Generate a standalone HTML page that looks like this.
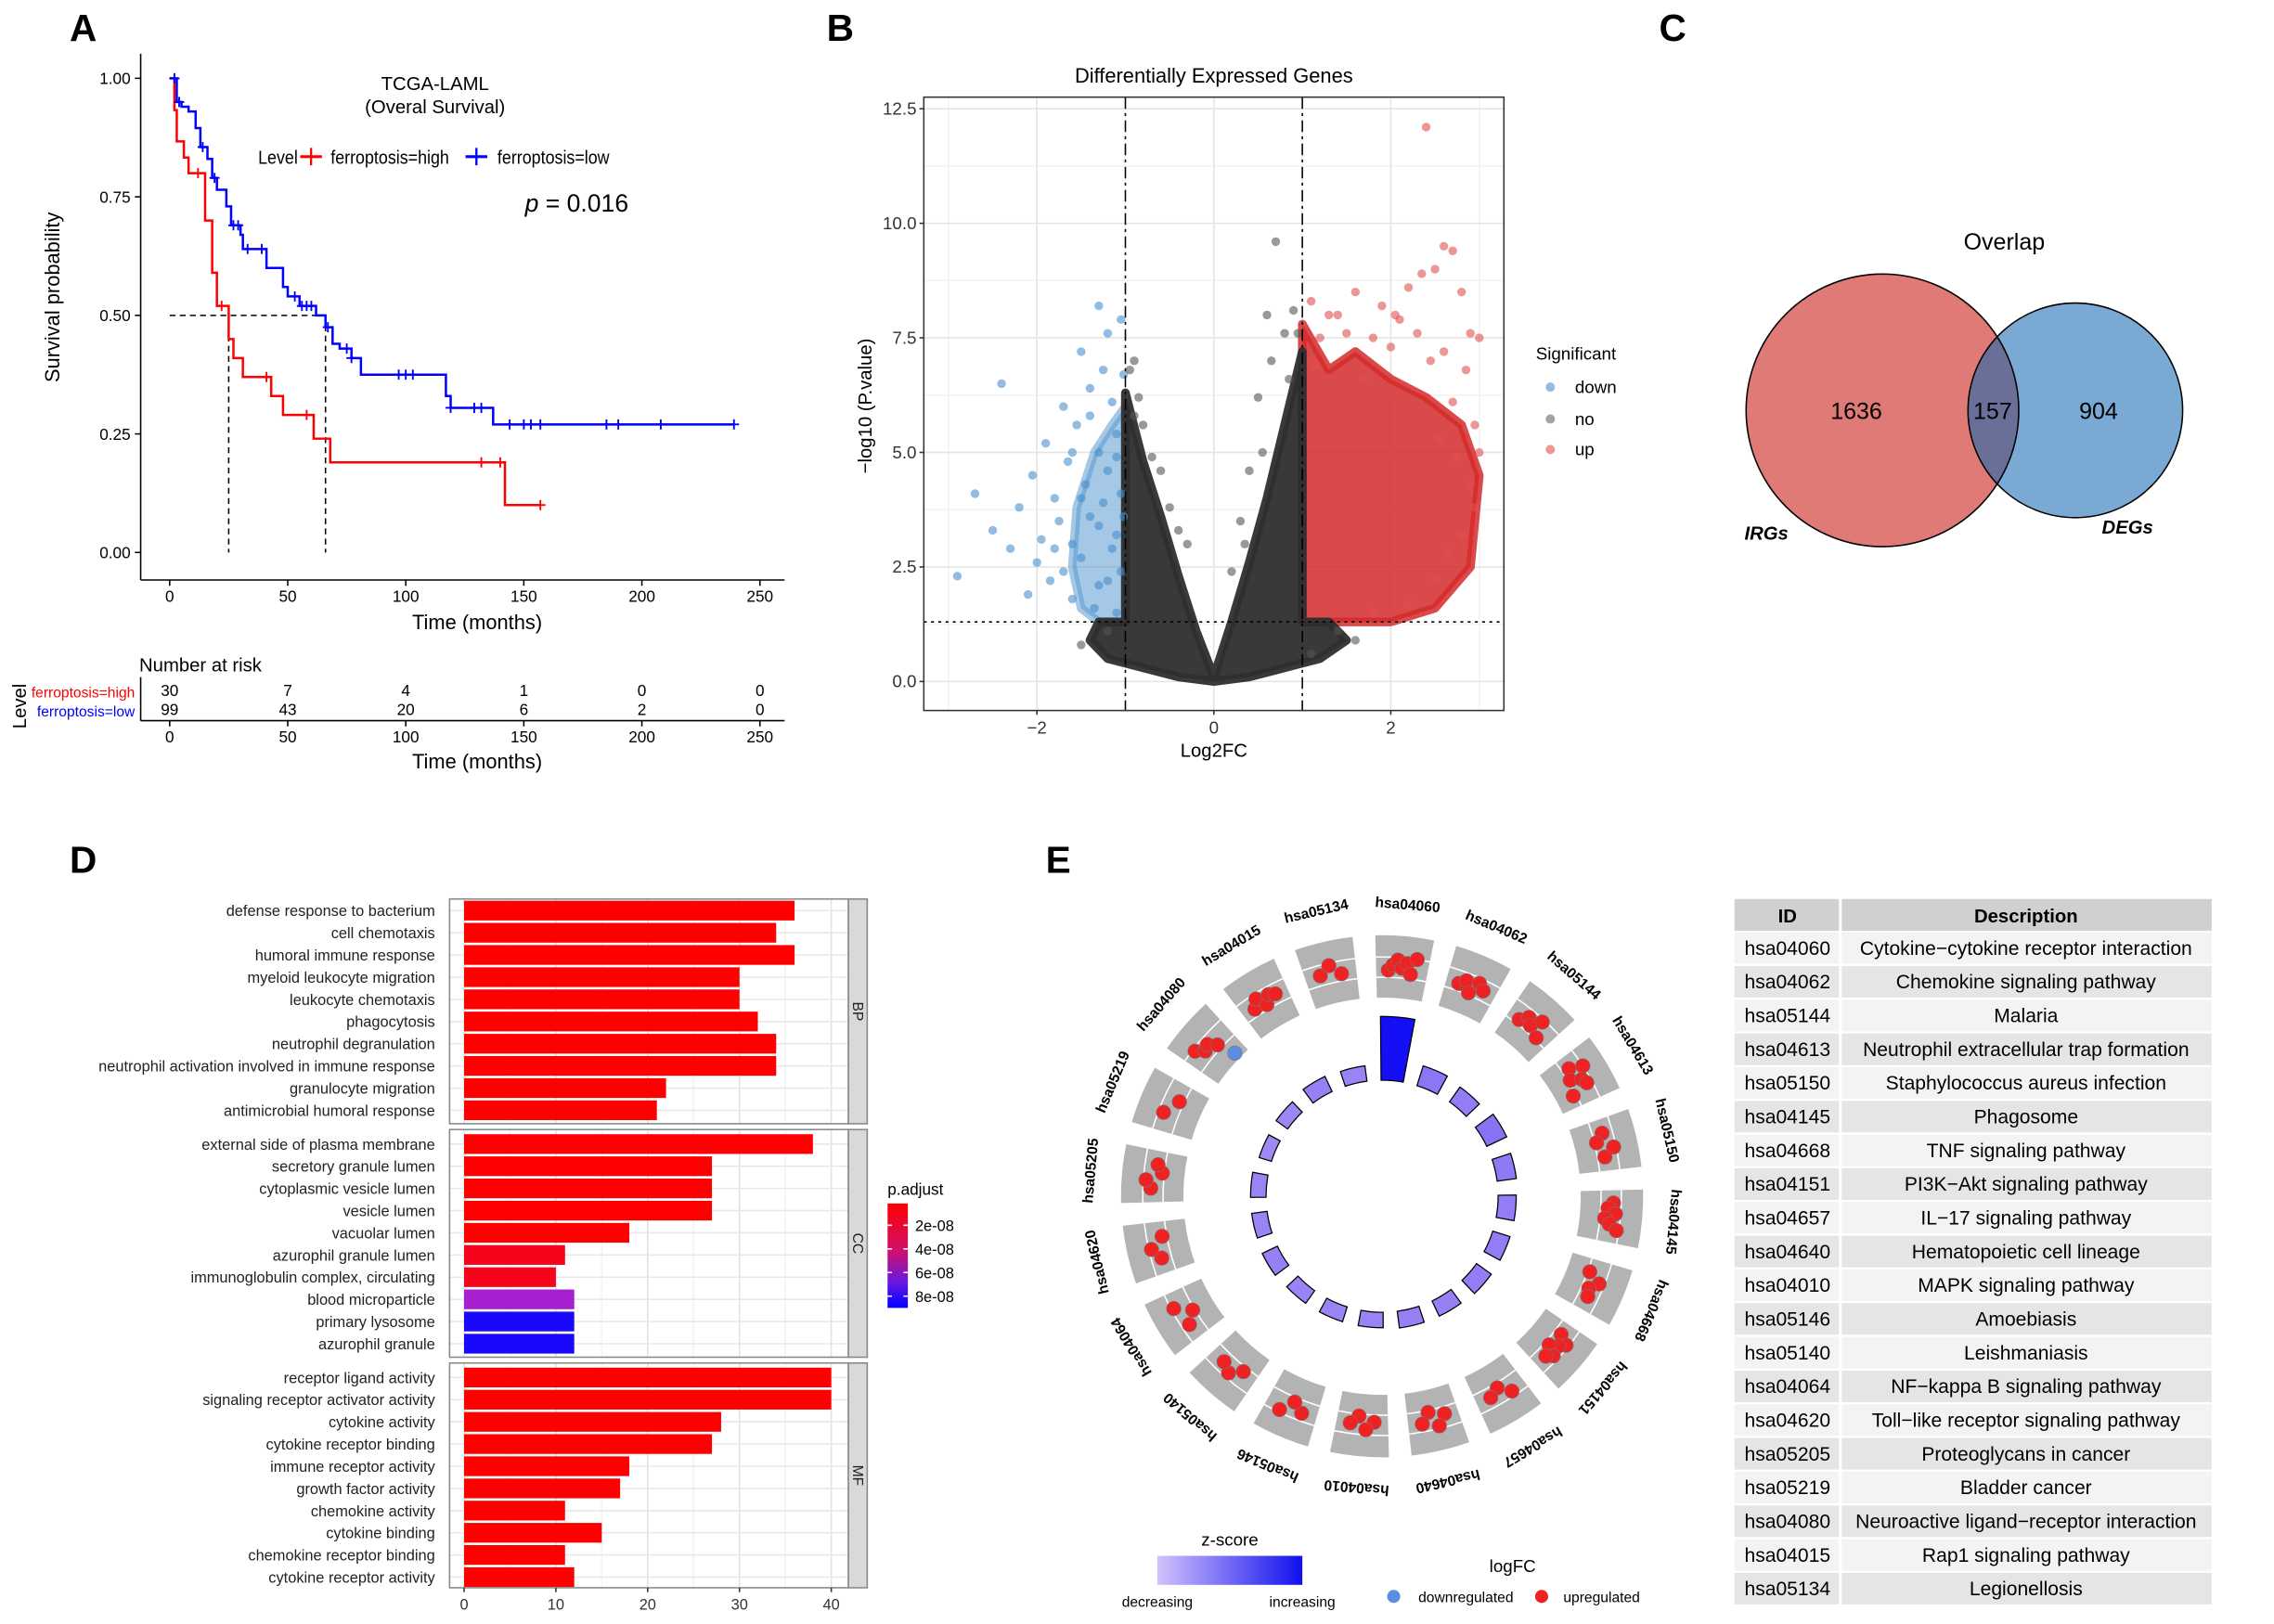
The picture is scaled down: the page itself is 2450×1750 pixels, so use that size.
<!DOCTYPE html>
<html><head><meta charset="utf-8"><style>
html,body{margin:0;padding:0;background:#fff;}
svg{display:block;font-family:"Liberation Sans",Arial,sans-serif;}
</style></head><body>
<svg id="fig" xmlns="http://www.w3.org/2000/svg" width="2450" height="1750" viewBox="0 0 1568 1120" preserveAspectRatio="none">
<rect x="0" y="0" width="1568" height="1120" fill="#fff"/>
<g font-weight="bold" font-size="26">
<text x="48" y="28">A</text>
<text x="570" y="28">B</text>
<text x="1144" y="28">C</text>
<text x="48" y="602">D</text>
<text x="721" y="602">E</text>
</g>
<g id="pa"></g>
<g id="pb"></g>
<g id="pc"></g>
<g id="pd"></g>
<g id="pe"></g>
<g id="pt"></g>
</svg>
<script>
// ===== Panel A data =====
const redSteps = [[2,0.933],[3,0.867],[6,0.833],[8,0.80],[15,0.70],[18,0.59],[20,0.52],[25,0.45],[27,0.41],[31,0.37],[43,0.33],[48,0.29],[61,0.24],[68,0.19],[142,0.10]];
const redEnd = 157;
const redCensor = [12,22,41,58,132,140,157];
const blueSteps = [[3,0.95],[5,0.94],[8,0.93],[11,0.895],[13,0.855],[16,0.83],[18,0.79],[20,0.765],[24,0.73],[26,0.69],[30,0.67],[31,0.64],[41,0.60],[48,0.56],[50,0.54],[55,0.52],[62,0.50],[66,0.475],[69,0.44],[72,0.43],[77,0.41],[81,0.375],[117,0.33],[119,0.305],[137,0.27]];
const blueEnd = 239;
const blueCensor = [2,4,14,19,27,29,33,39,53,56,58,60,67,75,77,97,100,103,119,129,132,144,150,153,157,185,190,208,239];
const medians = [25,66];
const timeTicks = [0,50,100,150,200,250];
const survTicks = [0,0.25,0.5,0.75,1.0];
const riskHigh = [30,7,4,1,0,0];
const riskLow = [99,43,20,6,2,0];
// ===== Panel B data =====
const downPts = [[-2.9,2.3],[-2.7,4.1],[-2.5,3.3],[-2.4,6.5],[-2.3,2.9],[-2.2,3.8],[-2.1,1.9],[-2.05,4.5],[-2.0,2.6],[-1.95,3.1],[-1.9,5.2],[-1.85,2.2],[-1.8,4.0],[-1.75,3.5],[-1.7,6.0],[-1.7,2.4],[-1.65,4.8],[-1.6,3.0],[-1.6,1.8],[-1.55,5.6],[-1.5,7.2],[-1.5,2.7],[-1.45,4.3],[-1.4,3.6],[-1.4,6.4],[-1.35,1.6],[-1.3,8.2],[-1.3,5.0],[-1.3,2.1],[-1.25,3.9],[-1.2,7.6],[-1.2,4.6],[-1.15,2.9],[-1.15,6.1],[-1.1,5.4],[-1.1,3.2],[-1.1,1.5],[-1.05,7.9],[-1.05,4.1],[-1.05,2.4],[-1.02,6.7],[-1.02,3.6],[-1.3,3.4],[-1.5,4.0],[-1.2,2.2],[-1.6,5.0],[-1.8,2.9],[-1.4,5.8],[-1.25,6.8],[-1.1,4.9]];
const downCloud = [[-1,1.3],[-1,6.0],[-1.15,5.6],[-1.35,5.0],[-1.55,3.8],[-1.6,2.5],[-1.5,1.6],[-1.3,1.3]];
const noCloud = [[-1.4,0.9],[-1.3,1.3],[-1,1.3],[-1,6.3],[-0.8,4.8],[-0.6,3.6],[-0.4,2.3],[-0.2,1.1],[0,0.1],[0.2,1.3],[0.4,2.6],[0.6,4.0],[0.8,5.6],[1,7.2],[1,1.3],[1.3,1.3],[1.5,0.9],[1.2,0.5],[0.8,0.3],[0.4,0.1],[0,0],[-0.4,0.1],[-0.8,0.3],[-1.2,0.5]];
const noPts = [[0.7,9.6],[0.6,8.0],[0.8,7.6],[0.5,6.2],[0.9,8.1],[0.65,7.0],[-0.95,6.8],[-0.9,7.0],[-0.8,5.6],[-0.6,4.6],[0.3,3.5],[0.4,4.6],[-1.2,1.1],[-1.5,0.8],[1.6,0.9],[1.4,1.1],[1.1,0.6],[-0.3,3.0],[-0.85,6.2],[0.85,6.6],[-0.7,4.9],[-0.5,3.8],[0.2,2.4],[0.35,3.0],[0.55,5.0],[-0.9,5.8],[0.95,7.6],[-0.4,3.3]];
const upCloud = [[1,1.3],[1,7.8],[1.3,6.8],[1.6,7.2],[2,6.6],[2.4,6.2],[2.8,5.6],[3,4.5],[2.9,2.5],[2.5,1.6],[2,1.3]];
const upPts = [[2.4,12.1],[2.6,9.5],[2.5,9.0],[2.7,9.4],[1.4,8.0],[1.6,8.5],[1.9,8.2],[2.1,7.9],[2.2,8.6],[2.35,8.9],[2.8,8.5],[2.9,7.6],[3.0,7.5],[2.95,5.6],[2.85,6.8],[2.6,7.2],[1.2,7.5],[1.1,8.3],[1.8,7.5],[2.0,7.3],[2.3,7.6],[2.7,6.1],[2.9,4.3],[2.8,3.2],[2.65,2.8],[2.95,3.8],[3.0,5.0],[2.5,2.2],[2.2,1.7],[1.8,1.5],[2.75,4.9],[1.5,7.6],[2.45,7.0],[1.3,8.0],[2.05,8.0],[1.15,6.9],[1.7,6.6],[2.55,5.3]];
const fcTicks = [-2,0,2];
const pTicks = [0,2.5,5,7.5,10,12.5];
// ===== Panel C data =====
const vennCounts = [1636,157,904];
const vennSets = ["IRGs","DEGs"];
// ===== Panel D data =====
const bpTerms = ["defense response to bacterium","cell chemotaxis","humoral immune response","myeloid leukocyte migration","leukocyte chemotaxis","phagocytosis","neutrophil degranulation","neutrophil activation involved in immune response","granulocyte migration","antimicrobial humoral response"];
const bpCounts = [36,34,36,30,30,32,34,34,22,21];
const ccTerms = ["external side of plasma membrane","secretory granule lumen","cytoplasmic vesicle lumen","vesicle lumen","vacuolar lumen","azurophil granule lumen","immunoglobulin complex, circulating","blood microparticle","primary lysosome","azurophil granule"];
const ccCounts = [38,27,27,27,18,11,10,12,12,12];
const ccColors = ["#FF0000","#FF0000","#FF0000","#FF0000","#FF0000","#F5041C","#F5041C","#A61FD0","#1A08FA","#1A08FA"];
const mfTerms = ["receptor ligand activity","signaling receptor activator activity","cytokine activity","cytokine receptor binding","immune receptor activity","growth factor activity","chemokine activity","cytokine binding","chemokine receptor binding","cytokine receptor activity"];
const mfCounts = [40,40,28,27,18,17,11,15,11,12];
const countTicks = [0,10,20,30,40];
const padjTicks = ["2e-08","4e-08","6e-08","8e-08"];
// ===== Panel E data =====
const keggIds = ["hsa04060","hsa04062","hsa05144","hsa04613","hsa05150","hsa04145","hsa04668","hsa04151","hsa04657","hsa04640","hsa04010","hsa05146","hsa05140","hsa04064","hsa04620","hsa05205","hsa05219","hsa04080","hsa04015","hsa05134"];
const keggDesc = ["Cytokine\u2212cytokine receptor interaction","Chemokine signaling pathway","Malaria","Neutrophil extracellular trap formation","Staphylococcus aureus infection","Phagosome","TNF signaling pathway","PI3K\u2212Akt signaling pathway","IL\u221217 signaling pathway","Hematopoietic cell lineage","MAPK signaling pathway","Amoebiasis","Leishmaniasis","NF\u2212kappa B signaling pathway","Toll\u2212like receptor signaling pathway","Proteoglycans in cancer","Bladder cancer","Neuroactive ligand\u2212receptor interaction","Rap1 signaling pathway","Legionellosis"];
const keggZ = [6.5,3.2,3.0,3.3,3.1,3.0,3.0,3.0,2.9,2.9,2.8,2.8,2.8,2.9,2.8,2.8,2.6,2.7,2.9,2.8];
const keggLogFC = [[2.0,2.2,2.4,2.1,2.3,1.9,2.5],[2.0,2.2,1.8,2.3,2.1],[1.9,2.2,2.0,2.4,1.8],[2.0,2.5,1.8,2.2,2.3,1.6],[2.1,1.8,2.4,2.0],[2.2,2.0,2.3,1.9,2.1,2.4],[1.8,2.3,2.0,2.1],[2.0,2.4,2.2,1.9,2.3,2.1],[2.3,1.9,2.1],[2.0,2.4,1.8,2.2],[2.0,2.3,1.8,2.1],[2.2,1.9,2.4],[1.9,2.3,2.1],[2.2,1.8,2.4],[2.1,2.4,1.9],[2.2,2.4,1.8,2.0],[2.3,1.9],[2.4,2.1,2.2,1.9,-1.2],[2.0,2.3,1.9,2.2,2.1],[2.1,2.4,2.0]];

const NS="http://www.w3.org/2000/svg";
function mk(tag, attrs, parent){const e=document.createElementNS(NS,tag);for(const k in attrs)e.setAttribute(k,attrs[k]);parent.appendChild(e);return e;}
function tx(str, attrs, parent){const e=mk('text',attrs,parent);e.textContent=str;return e;}

// ================= PANEL A =================
(function(){
const g=document.getElementById('pa');
const xA=t=>117+t*1.628, yA=s=>381-s*327;
mk('line',{x1:97,y1:37,x2:97,y2:400,stroke:'#000','stroke-width':1},g);
mk('line',{x1:97,y1:400,x2:541,y2:400,stroke:'#000','stroke-width':1},g);
survTicks.forEach(s=>{
  mk('line',{x1:93,y1:yA(s),x2:97,y2:yA(s),stroke:'#000'},g);
  const t=tx(s.toFixed(2),{x:90,y:yA(s)+4,'font-size':11,'text-anchor':'end'},g);
  
  
});
timeTicks.forEach(v=>{
  mk('line',{x1:xA(v),y1:400,x2:xA(v),y2:404,stroke:'#000'},g);
  const t=tx(v,{x:xA(v),y:415,'font-size':11,'text-anchor':'middle'},g);
  
  
});
let t=tx('Time (months)',{x:329,y:434,'font-size':14,'text-anchor':'middle'},g);


t=tx('Survival probability',{x:0,y:0,'font-size':14,'text-anchor':'middle',transform:'translate(41,205) rotate(-90)'},g);


t=tx('TCGA-LAML',{x:300,y:62,'font-size':13,'text-anchor':'middle'},g);


t=tx('(Overal Survival)',{x:300,y:78,'font-size':13,'text-anchor':'middle'},g);


t=tx('',{x:362,y:146,'font-size':17},g);
t.innerHTML='<tspan font-style="italic">p</tspan> = 0.016';


const lg=mk('g',{},g);


tx('Level',{x:178,y:113,'font-size':13,transform:'scale(0.88,1)','transform-origin':'178 113'},lg);
mk('line',{x1:207,y1:108,x2:222,y2:108,stroke:'#f00','stroke-width':2},lg);
mk('line',{x1:214.5,y1:102,x2:214.5,y2:114,stroke:'#f00','stroke-width':1.5},lg);
tx('ferroptosis=high',{x:228,y:113,'font-size':13,transform:'scale(0.88,1)','transform-origin':'228 113'},lg);
mk('line',{x1:321,y1:108,x2:336,y2:108,stroke:'#00f','stroke-width':2},lg);
mk('line',{x1:328.5,y1:102,x2:328.5,y2:114,stroke:'#00f','stroke-width':1.5},lg);
tx('ferroptosis=low',{x:343,y:113,'font-size':13,transform:'scale(0.88,1)','transform-origin':'343 113'},lg);
let mp=mk('path',{d:`M${xA(0)} ${yA(0.5)}H${xA(medians[1])}`,stroke:'#000','stroke-dasharray':'4,3',fill:'none'},g);


medians.forEach(m=>{
  const l=mk('line',{x1:xA(m),y1:yA(0.5),x2:xA(m),y2:yA(0),stroke:'#000','stroke-dasharray':'4,3'},g);
  
  
});
function curve(steps,end,cens,color,name){
  let d=`M${xA(0)} ${yA(1)}`;
  steps.forEach(s=>{d+=`H${xA(s[0])}V${yA(s[1])}`;});
  d+=`H${xA(end)}`;
  const p=mk('path',{d:d,stroke:color,'stroke-width':1.6,fill:'none'},g);
  
  
  const sAt=tt=>{let v=1;steps.forEach(s=>{if(s[0]<=tt)v=s[1];});return v;};
  cens.forEach(c=>{
    const x=xA(c),y=yA(sAt(c));
    const m=mk('path',{d:`M${x-3.5} ${y}H${x+3.5}M${x} ${y-3.5}V${y+3.5}`,stroke:color,'stroke-width':1.2},g);
    
    
  });
}
curve(redSteps,redEnd,redCensor,'#f00','survival-curve-high');
curve(blueSteps,blueEnd,blueCensor,'#00f','survival-curve-low');
t=tx('Number at risk',{x:96,y:463,'font-size':13},g);


mk('line',{x1:97,y1:467,x2:97,y2:497,stroke:'#000'},g);
mk('line',{x1:97,y1:497,x2:541,y2:497,stroke:'#000'},g);
t=tx('ferroptosis=high',{x:93,y:481,'font-size':10,fill:'#f00','text-anchor':'end'},g);


t=tx('ferroptosis=low',{x:93,y:494,'font-size':10,fill:'#00f','text-anchor':'end'},g);


t=tx('Level',{x:0,y:0,'font-size':13,'text-anchor':'middle',transform:'translate(18,487) rotate(-90)'},g);


timeTicks.forEach((v,i)=>{
  let a=tx(riskHigh[i],{x:xA(v),y:480,'font-size':11,'text-anchor':'middle'},g);
  
  
  a=tx(riskLow[i],{x:xA(v),y:493,'font-size':11,'text-anchor':'middle'},g);
  
  
  mk('line',{x1:xA(v),y1:497,x2:xA(v),y2:501,stroke:'#000'},g);
  a=tx(v,{x:xA(v),y:512,'font-size':11,'text-anchor':'middle'},g);
  
  
});
t=tx('Time (months)',{x:329,y:530,'font-size':14,'text-anchor':'middle'},g);


})();

// ================= PANEL B =================
(function(){
const g=document.getElementById('pb');
const xB=v=>837+v*61, yB=v=>470-v*31.6;
const L=637,R=1037,T=67,B=490;
mk('rect',{x:L,y:T,width:R-L,height:B-T,fill:'#fff'},g);
[-3,-1,1,3].forEach(v=>mk('line',{x1:xB(v),y1:T,x2:xB(v),y2:B,stroke:'#f3f3f3'},g));
[1.25,3.75,6.25,8.75,11.25].forEach(v=>mk('line',{x1:L,y1:yB(v),x2:R,y2:yB(v),stroke:'#f3f3f3'},g));
fcTicks.forEach(v=>{mk('line',{x1:xB(v),y1:T,x2:xB(v),y2:B,stroke:'#e4e4e4'},g);
  mk('line',{x1:xB(v),y1:B,x2:xB(v),y2:B+3,stroke:'#333'},g);
  const a=tx(v<0?'\u2212'+(-v):v,{x:xB(v),y:506,'font-size':12,'text-anchor':'middle',fill:'#333'},g);
  
  });
pTicks.forEach(v=>{mk('line',{x1:L,y1:yB(v),x2:R,y2:yB(v),stroke:'#e4e4e4'},g);
  mk('line',{x1:L-3,y1:yB(v),x2:L,y2:yB(v),stroke:'#333'},g);
  const a=tx(v.toFixed(1),{x:L-5,y:yB(v)+4,'font-size':12,'text-anchor':'end',fill:'#333'},g);
  
  });
function cloud(arr,fill,op,name){
  const p=mk('polygon',{points:arr.map(a=>xB(a[0])+','+yB(a[1])).join(' '),fill:fill,'fill-opacity':op,stroke:fill,'stroke-opacity':op,'stroke-width':6,'stroke-linejoin':'round'},g);
  
  
}
function pts(arr,fill,name){
  arr.forEach(a=>{const c=mk('circle',{cx:xB(a[0]),cy:yB(a[1]),r:3,fill:fill,'fill-opacity':0.6},g);
  
  });
}
cloud(downCloud,'#5a9bd0',0.55,'down-genes-cloud');
cloud(upCloud,'#d42a2a',0.85,'up-genes-cloud');
cloud(noCloud,'#2e2e2e',0.95,'no-change-genes-cloud');
pts(downPts,'#4a90cc','down-gene-point');
pts(noPts,'#555','no-change-gene-point');
pts(upPts,'#e05050','up-gene-point');
[-1,1].forEach(v=>{const l=mk('line',{x1:xB(v),y1:T,x2:xB(v),y2:B,stroke:'#000','stroke-dasharray':'8,3,2,3'},g);
 
 });
let l=mk('line',{x1:L,y1:yB(1.3),x2:R,y2:yB(1.3),stroke:'#000','stroke-dasharray':'2,3'},g);


mk('rect',{x:L,y:T,width:R-L,height:B-T,fill:'none',stroke:'#333'},g);
let t=tx('Differentially Expressed Genes',{x:837,y:57,'font-size':14,'text-anchor':'middle'},g);


t=tx('Log2FC',{x:837,y:522,'font-size':13,'text-anchor':'middle'},g);


t=tx('\u2212log10 (P.value)',{x:0,y:0,'font-size':13,'text-anchor':'middle',transform:'translate(601,280) rotate(-90)'},g);


const lg=mk('g',{},g);


tx('Significant',{x:1059,y:248,'font-size':12},lg);
[['down','#4a90cc',267],['no','#666',289],['up','#e05050',310]].forEach(r=>{
  mk('circle',{cx:1069,cy:r[2],r:3.2,fill:r[1],'fill-opacity':0.6},lg);
  tx(r[0],{x:1086,y:r[2]+4,'font-size':12},lg);
});
})();

// ================= PANEL C =================
(function(){
const g=document.getElementById('pc');
const c1=[1298,283,94], c2=[1431,283,74];
let c=mk('circle',{cx:c1[0],cy:c1[1],r:c1[2],fill:'#e07a77'},g);


c=mk('circle',{cx:c2[0],cy:c2[1],r:c2[2],fill:'#7aaad3'},g);


const d=c2[0]-c1[0];
const a=(d*d+c1[2]*c1[2]-c2[2]*c2[2])/(2*d);
const h=Math.sqrt(c1[2]*c1[2]-a*a);
const ix=c1[0]+a;
const lens=mk('path',{d:`M${ix} ${c1[1]-h}A${c1[2]} ${c1[2]} 0 0 1 ${ix} ${c1[1]+h}A${c2[2]} ${c2[2]} 0 0 1 ${ix} ${c1[1]-h}Z`,fill:'#6a6f98'},g);


mk('circle',{cx:c1[0],cy:c1[1],r:c1[2],fill:'none',stroke:'#000'},g);
mk('circle',{cx:c2[0],cy:c2[1],r:c2[2],fill:'none',stroke:'#000'},g);
let t=tx('Overlap',{x:1382,y:172,'font-size':16,'text-anchor':'middle'},g);


[[1280,vennCounts[0]],[1374,vennCounts[1]],[1447,vennCounts[2]]].forEach(p=>{
  const e=tx(p[1],{x:p[0],y:289,'font-size':16,'text-anchor':'middle'},g);
  
  
});
t=tx(vennSets[0],{x:1218,y:372,'font-size':13,'font-weight':'bold','font-style':'italic','text-anchor':'middle'},g);


t=tx(vennSets[1],{x:1467,y:368,'font-size':13,'font-weight':'bold','font-style':'italic','text-anchor':'middle'},g);


})();

// ================= PANEL D =================
(function(){
const g=document.getElementById('pd');
const xD=v=>320+v*6.33;
const panels=[[bpTerms,bpCounts,null,620,775,'BP',628],[ccTerms,ccCounts,ccColors,779,936,'CC',789],[mfTerms,mfCounts,null,940,1095,'MF',950]];
panels.forEach(P=>{
  const [terms,counts,cols,top,bot,lab,start]=P;
  const pg=mk('g',{},g);
  
  
  mk('rect',{x:310,y:top,width:275,height:bot-top,fill:'#fff'},pg);
  [5,15,25,35].forEach(v=>mk('line',{x1:xD(v),y1:top,x2:xD(v),y2:bot,stroke:'#f3f3f3'},pg));
  countTicks.forEach(v=>mk('line',{x1:xD(v),y1:top,x2:xD(v),y2:bot,stroke:'#e2e2e2'},pg));
  terms.forEach((term,i)=>{
    const y=start+i*15.3;
    mk('line',{x1:310,y1:y,x2:585,y2:y,stroke:'#e8e8e8'},pg);
    const b=mk('rect',{x:xD(0),y:y-6.8,width:xD(counts[i])-xD(0),height:13.6,fill:cols?cols[i]:'#FF0000'},pg);
    
    
    const t=tx(term,{x:300,y:y+3.8,'font-size':10.5,'text-anchor':'end',fill:'#222'},pg);
    
    
  });
  mk('rect',{x:310,y:top,width:275,height:bot-top,fill:'none',stroke:'#888'},pg);
  const s=mk('rect',{x:585,y:top,width:13,height:bot-top,fill:'#d9d9d9',stroke:'#888'},pg);
  
  
  tx(lab,{x:0,y:0,'font-size':10,'text-anchor':'middle',fill:'#222',transform:`translate(588,${(top+bot)/2}) rotate(90)`},pg);
});
countTicks.forEach(v=>{
  mk('line',{x1:xD(v),y1:1095,x2:xD(v),y2:1098,stroke:'#333'},g);
  const t=tx(v,{x:xD(v),y:1110,'font-size':10.5,'text-anchor':'middle',fill:'#333'},g);
  
  
});
const lg=mk('g',{},g);


tx('p.adjust',{x:612,y:824,'font-size':11},lg);
const defs=mk('defs',{},lg);
const gr=mk('linearGradient',{id:'padj',x1:0,y1:0,x2:0,y2:1},defs);
mk('stop',{offset:'0','stop-color':'#ff0000'},gr);
mk('stop',{offset:'0.45','stop-color':'#d0106a'},gr);
mk('stop',{offset:'0.75','stop-color':'#6a18e0'},gr);
mk('stop',{offset:'1','stop-color':'#0000ff'},gr);
mk('rect',{x:612,y:830,width:14,height:72,fill:'url(#padj)'},lg);
padjTicks.forEach((p,i)=>{
  const y=845+i*16.3;
  mk('line',{x1:612,y1:y,x2:615,y2:y,stroke:'#fff'},lg);
  mk('line',{x1:623,y1:y,x2:626,y2:y,stroke:'#fff'},lg);
  tx(p,{x:631,y:y+4,'font-size':10.5},lg);
});
})();

// ================= PANEL E =================
(function(){
const g=document.getElementById('pe');
const cx=953,cy=825,n=keggIds.length,off=5;
const pol=(r,a)=>{const rad=(a-90)*Math.PI/180;return [cx+r*Math.cos(rad),cy+r*Math.sin(rad)];};
function sector(r1,r2,a1,a2){
  const p1=pol(r2,a1),p2=pol(r2,a2),p3=pol(r1,a2),p4=pol(r1,a1);
  return `M${p1[0]} ${p1[1]}A${r2} ${r2} 0 0 1 ${p2[0]} ${p2[1]}L${p3[0]} ${p3[1]}A${r1} ${r1} 0 0 0 ${p4[0]} ${p4[1]}Z`;
}
const zCol=z=>{const f=Math.min(1,Math.max(0,(z-2.5)/4));const r=Math.round(165-f*145),gg=Math.round(140-f*125);return `rgb(${r},${gg},245)`;};
const rFC=v=>147+(v-1.5)*18;
keggIds.forEach((id,i)=>{
  const a=off+i*360/n;
  const grp=mk('g',{},g);
  
  
  const box=mk('path',{d:sector(137,180,a-6.5,a+6.5),fill:'#b3b3b3'},grp);
  
  
  [151,165].forEach(r=>{const p1=pol(r,a-6.5),p2=pol(r,a+6.5);mk('path',{d:`M${p1[0]} ${p1[1]}A${r} ${r} 0 0 1 ${p2[0]} ${p2[1]}`,stroke:'#fff',fill:'none','stroke-width':1},grp);});
  const vals=keggLogFC[i];
  vals.forEach((v,j)=>{
    const aa=a-4+8*(j+0.5)/vals.length;
    const p=pol(v>0?rFC(v):rFC(1.2),aa);
    const d=mk('circle',{cx:p[0],cy:p[1],r:5,fill:v>0?'#ee2222':'#5b8de0',stroke:'#777','stroke-width':0.4},grp);
    
    
  });
  const h=8+(keggZ[i]-2.5)*9;
  const zb=mk('path',{d:sector(80,80+Math.max(h,8),a-5.5,a+5.5),fill:zCol(keggZ[i]),stroke:'#000','stroke-width':0.8},grp);
  
  
  const lp=pol(202,a);
  const t=tx(id,{x:0,y:0,'font-size':10,'font-weight':'bold','text-anchor':'middle',transform:`translate(${lp[0]},${lp[1]}) rotate(${a})`,dy:'3.5'},grp);
  
  
});
const lg=mk('g',{},g);


tx('z-score',{x:848,y:1066,'font-size':12,'text-anchor':'middle'},lg);
const defs=mk('defs',{},lg);
const gr=mk('linearGradient',{id:'zgrad',x1:0,y1:0,x2:1,y2:0},defs);
mk('stop',{offset:'0','stop-color':'#d2c2fb'},gr);
mk('stop',{offset:'1','stop-color':'#1010ee'},gr);
mk('rect',{x:798,y:1073,width:100,height:20,fill:'url(#zgrad)'},lg);
tx('decreasing',{x:798,y:1108,'font-size':10,'text-anchor':'middle'},lg);
tx('increasing',{x:898,y:1108,'font-size':10,'text-anchor':'middle'},lg);
tx('logFC',{x:1043,y:1084,'font-size':12,'text-anchor':'middle'},lg);
mk('circle',{cx:961,cy:1101,r:4.5,fill:'#5b8de0'},lg);
tx('downregulated',{x:978,y:1105,'font-size':10},lg);
mk('circle',{cx:1063,cy:1101,r:4.5,fill:'#ee2222'},lg);
tx('upregulated',{x:1078,y:1105,'font-size':10},lg);
})();

// ================= TABLE =================
(function(){
const g=document.getElementById('pt');
const L=1196,C=1269,R=1525,T=620,hH=22,rH=23.25;
let h=mk('rect',{x:L,y:T,width:C-L-1,height:hH,fill:'#d0d0d0'},g);


mk('rect',{x:C+1,y:T,width:R-C-1,height:hH,fill:'#d0d0d0'},g);
let t=tx('ID',{x:(L+C)/2,y:T+16,'font-size':13,'font-weight':'bold','text-anchor':'middle'},g);


t=tx('Description',{x:(C+R)/2,y:T+16,'font-size':13,'font-weight':'bold','text-anchor':'middle'},g);


keggIds.forEach((id,i)=>{
  const y=T+hH+1+i*rH, f=i%2===0?'#f3f3f3':'#e5e5e5';
  const row=mk('g',{},g);
  
  
  mk('rect',{x:L,y:y,width:C-L-1,height:rH-1.5,fill:f},row);
  mk('rect',{x:C+1,y:y,width:R-C-1,height:rH-1.5,fill:f},row);
  tx(id,{x:(L+C)/2,y:y+15.5,'font-size':13.5,'text-anchor':'middle'},row);
  tx(keggDesc[i],{x:(C+R)/2,y:y+15.5,'font-size':13.5,'text-anchor':'middle'},row);
});
})();
</script>
</body></html>
